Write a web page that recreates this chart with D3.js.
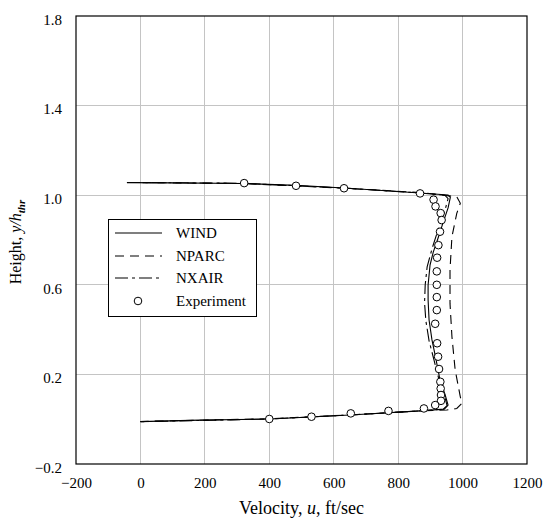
<!DOCTYPE html>
<html><head><meta charset="utf-8">
<script src="https://cdn.jsdelivr.net/npm/d3@7"></script>
<style>body{margin:0;background:#fff}svg{display:block}text{font-family:"Liberation Serif","Times New Roman",serif;fill:#000}</style>
</head><body><svg id="c" width="548" height="524"></svg>
<script>
const xTicks = [-200, 0, 200, 400, 600, 800, 1000, 1200];
const yTicks = [-0.2, 0.2, 0.6, 1.0, 1.4, 1.8];
const seriesNames = ["WIND", "NPARC", "NXAIR", "Experiment"];

const windU = [-42, 100, 322, 483, 632, 868, 955, 962, 955, 940, 924, 909, 899, 893, 893, 896, 905, 918, 930, 946, 955, 943, 868, 651, 403, 185, 0];
const windY = [1.056, 1.055, 1.052, 1.044, 1.032, 1.010, 1.001, 0.990, 0.943, 0.880, 0.809, 0.746, 0.688, 0.599, 0.532, 0.443, 0.354, 0.264, 0.175, 0.108, 0.063, 0.045, 0.037, 0.019, 0.001, -0.004, -0.011];

const nparcU = [-40, 322, 632, 868, 940, 982, 993, 982, 967, 961, 961, 967, 977, 993, 998, 982, 951, 870, 650, 400, 0];
const nparcY = [1.057, 1.052, 1.031, 1.012, 1.000, 0.993, 0.964, 0.919, 0.815, 0.666, 0.517, 0.368, 0.220, 0.100, 0.071, 0.048, 0.041, 0.037, 0.019, 0.002, -0.010];

const nxairU = [-40, 322, 632, 868, 945, 955, 945, 925, 905, 890, 884, 882, 886, 896, 912, 928, 945, 952, 940, 868, 651, 403, 0];
const nxairY = [1.057, 1.053, 1.032, 1.010, 1.000, 0.985, 0.930, 0.850, 0.760, 0.680, 0.600, 0.520, 0.440, 0.350, 0.260, 0.170, 0.100, 0.060, 0.045, 0.037, 0.019, 0.001, -0.011];

const expU = [322, 483, 632, 868, 910, 916, 932, 935, 930, 925, 921, 920, 920, 920, 920, 915, 921, 924, 927, 931, 932, 933, 933, 915, 880, 770, 653, 531, 400];
const expY = [1.054, 1.042, 1.031, 1.008, 0.980, 0.950, 0.920, 0.889, 0.837, 0.777, 0.721, 0.660, 0.600, 0.545, 0.487, 0.426, 0.339, 0.279, 0.224, 0.167, 0.137, 0.108, 0.082, 0.063, 0.048, 0.037, 0.026, 0.011, 0.001];

const L = 76, R = 527, T = 16, B = 464;
const svg = d3.select("#c");
const x = d3.scaleLinear().domain([-200, 1200]).range([L, R]);
const y = d3.scaleLinear().domain([-0.2, 1.8]).range([B, T]);

// gridlines
svg.append("g").selectAll("line").data(xTicks.slice(1, -1)).join("line")
  .attr("x1", d => x(d)).attr("x2", d => x(d)).attr("y1", T).attr("y2", B)
  .attr("stroke", "#c4c4c4").attr("stroke-width", 1).attr("shape-rendering", "crispEdges");
svg.append("g").selectAll("line").data(yTicks.slice(1, -1)).join("line")
  .attr("y1", d => y(d)).attr("y2", d => y(d)).attr("x1", L).attr("x2", R)
  .attr("stroke", "#c4c4c4").attr("stroke-width", 1).attr("shape-rendering", "crispEdges");

// axes (labels only)
const xAxis = svg.append("g").attr("transform", `translate(0,${B})`)
  .call(d3.axisBottom(x).tickValues(xTicks).tickFormat(d3.format("d")).tickSize(0).tickPadding(13));
xAxis.select(".domain").remove();
xAxis.selectAll("text").style("font-size", "15px").style("font-family", "Liberation Serif");
const yAxis = svg.append("g").attr("transform", `translate(${L},0)`)
  .call(d3.axisLeft(y).tickValues(yTicks).tickFormat(d3.format(".1f")).tickSize(0).tickPadding(14));
yAxis.select(".domain").remove();
yAxis.selectAll("text").attr("dy", "0.55em").style("font-size", "15px").style("font-family", "Liberation Serif");

// plot frame
svg.append("rect").attr("x", L).attr("y", T).attr("width", R - L).attr("height", B - T)
  .attr("fill", "none").attr("stroke", "#000").attr("stroke-width", 1.2);

const line = d3.line().x(d => x(d[0])).y(d => y(d[1]));
const series = [
  {u: windU, v: windY, dash: null},
  {u: nparcU, v: nparcY, dash: "9,6"},
  {u: nxairU, v: nxairY, dash: "13,4,3,4"}
];
series.forEach(s => {
  svg.append("path").datum(d3.zip(s.u, s.v)).attr("d", line)
    .attr("fill", "none").attr("stroke", "#000").attr("stroke-width", 1.1)
    .attr("stroke-dasharray", s.dash);
});

svg.append("g").selectAll("circle").data(d3.zip(expU, expY)).join("circle")
  .attr("cx", d => x(d[0])).attr("cy", d => y(d[1])).attr("r", 3.8)
  .attr("fill", "#fff").attr("stroke", "#000").attr("stroke-width", 1);

// legend
const lg = svg.append("g");
lg.append("rect").attr("x", 108.5).attr("y", 219.5).attr("width", 148).attr("height", 97)
  .attr("fill", "#fff").attr("stroke", "#000").attr("stroke-width", 1);
const ly = [233, 256, 278, 301];
const dashes = [null, "9,6", "13,4,3,4"];
seriesNames.forEach((n, i) => {
  if (i < 3) {
    lg.append("line").attr("x1", 115).attr("x2", 162).attr("y1", ly[i]).attr("y2", ly[i])
      .attr("stroke", "#000").attr("stroke-width", 1.1).attr("stroke-dasharray", dashes[i]);
  } else {
    lg.append("circle").attr("cx", 138).attr("cy", ly[i]).attr("r", 3.8)
      .attr("fill", "#fff").attr("stroke", "#000");
  }
  lg.append("text").attr("x", 176).attr("y", ly[i] + 5).style("font-size", "15px").text(n);
});

// axis titles
const xt = svg.append("text").attr("x", (L + R) / 2).attr("y", 514).attr("text-anchor", "middle").style("font-size", "18px");
xt.append("tspan").text("Velocity, ");
xt.append("tspan").style("font-style", "italic").text("u");
xt.append("tspan").text(", ft/sec");

const yt = svg.append("text").attr("transform", "translate(21,242) rotate(-90)").attr("text-anchor", "middle").style("font-size", "16px");
yt.append("tspan").text("Height, ");
yt.append("tspan").style("font-style", "italic").text("y/h");
yt.append("tspan").style("font-style", "italic").style("font-weight", "bold").style("font-size", "11px").attr("dy", 4).text("thr");
</script></body></html>
